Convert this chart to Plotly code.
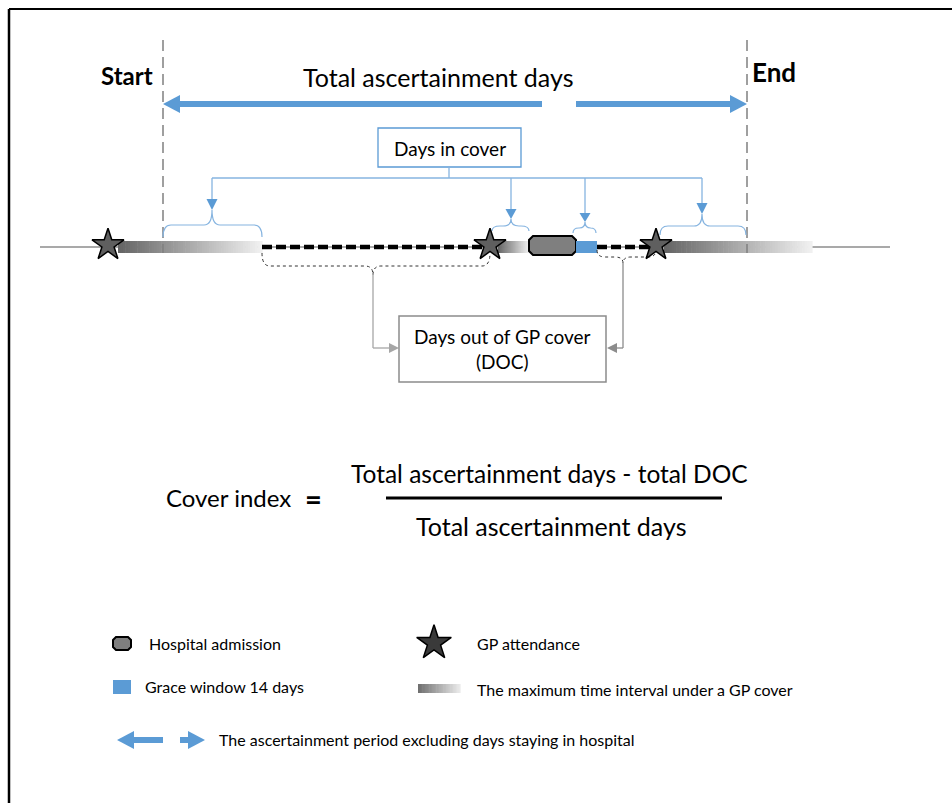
import plotly.graph_objects as go

# ---------------- data (timeline positions, in timeline units) ----------------
study_window = [163, 747]                 # start / end of ascertainment
gp_attendance = [108, 490, 656]           # GP attendance events
cover_intervals = [[108, 262], [490, 529], [656, 812]]   # max interval under GP cover
hospital_stay = [529, 576]
grace_window = [576, 597]
doc_intervals = [[262, 490], [597, 656]]  # days out of GP cover
timeline_extent = [40, 890]
in_cover_braces = [[163, 262], [492, 529], [573, 596], [660, 746]]

labels = {
    "start": "Start", "end": "End",
    "total": "Total ascertainment days",
    "in_cover": "Days in cover",
    "doc": "Days out of GP cover<br>(DOC)",
    "ci": "Cover index",
    "num": "Total ascertainment days - total DOC",
    "den": "Total ascertainment days",
}
legend_labels = ["Hospital admission", "GP attendance", "Grace window 14 days",
                 "The maximum time interval under a GP cover",
                 "The ascertainment period excluding days staying in hospital"]

# ---------------- styles ----------------
BLUE = "#5B9BD5"
LBLUE = "#86B4E0"
FONT = "Lato"
Y = 247          # timeline row
BH = 6           # half bar height

shapes = []
ann = []

def rect(x0, x1, y0, y1, color, line=None):
    shapes.append(dict(type="rect", x0=x0, x1=x1, y0=y0, y1=y1, fillcolor=color,
                       line=dict(width=0) if line is None else line, layer="below"))

def line(x0, y0, x1, y1, color, width=1, dash=None):
    d = dict(color=color, width=width)
    if dash:
        d["dash"] = dash
    shapes.append(dict(type="line", x0=x0, y0=y0, x1=x1, y1=y1, line=d, layer="below"))

def path(p, color=None, fill=None, width=1, dash=None):
    d = dict(color=color if color else "rgba(0,0,0,0)", width=width)
    if dash:
        d["dash"] = dash
    shapes.append(dict(type="path", path=p, line=d,
                       fillcolor=fill if fill else "rgba(0,0,0,0)", layer="below"))

def gradient(x0, x1, y0, y1, c0=(100, 100, 100), c1=(242, 242, 242), n=60):
    w = (x1 - x0) / n
    for i in range(n):
        t = (i + 0.5) / n
        c = tuple(int(c0[k] + (c1[k] - c0[k]) * t) for k in range(3))
        rect(x0 + i * w, x0 + (i + 1) * w + 0.6, y0, y1, "rgb(%d,%d,%d)" % c)

def tri_down(x, ytop, ybot, hw, color):
    path(f"M {x-hw},{ytop} L {x+hw},{ytop} L {x},{ybot} Z", fill=color, width=0)

def brace(x0, x1, yend, ybar, ytip, xc, color, width=1.2, dash=None):
    r = min(8, (x1 - x0) / 4)
    p = (f"M {x0},{yend} Q {x0},{ybar} {x0+r},{ybar} L {xc-r},{ybar} "
         f"Q {xc},{ybar} {xc},{ytip} Q {xc},{ybar} {xc+r},{ybar} L {x1-r},{ybar} "
         f"Q {x1},{ybar} {x1},{yend}")
    path(p, color=color, width=width, dash=dash)

def text(x, y, t, size, xanchor="center", bold=False, color="black"):
    ann.append(dict(x=x, y=y, text=f"<b>{t}</b>" if bold else t, showarrow=False,
                    xanchor=xanchor, yanchor="middle",
                    font=dict(family=FONT, size=size, color=color)))

# frame
line(9, 9, 952, 9, "black", 2)
line(9, 9, 9, 803, "black", 2.5)

# timeline base line
line(timeline_extent[0], Y, timeline_extent[1], Y, "#8c8c8c", 1.5)

# cover gradients
for a, b in cover_intervals:
    gradient(a + (10 if a == gp_attendance[0] else 8), b, Y - BH, Y + BH)

# DOC dashed lines
for a, b in doc_intervals:
    line(a, Y, b, Y, "black", 4.5, "10px,4px")

# hospital admission
h0, h1 = hospital_stay
c = 4
path(f"M {h0+c},{Y-11} L {h1-c},{Y-11} L {h1},{Y-11+c} L {h1},{Y+8-c} L {h1-c},{Y+8} "
     f"L {h0+c},{Y+8} L {h0},{Y+8-c} L {h0},{Y-11+c} Z", color="black", fill="#7f7f7f", width=2)
# grace window
rect(grace_window[0], grace_window[1], Y - BH, Y + BH, BLUE)

# Start / End dashed lines
for xs in study_window:
    line(xs, 40, xs, 253, "#808080", 1.5, "11px,6px")

text(study_window[0] - 8, 75, labels["start"], 24, "right", bold=True)
text(study_window[1] + 3, 72, labels["end"], 26, "left", bold=True)
text(437.5, 77, labels["total"], 25)

# big arrows
def big_arrow_left(xtip, xtail, y):
    line(xtip + 14, y, xtail, y, BLUE, 6)
    path(f"M {xtip},{y} L {xtip+17},{y-9} L {xtip+17},{y+9} Z", fill=BLUE, width=0)

def big_arrow_right(xtip, xtail, y):
    line(xtail, y, xtip - 14, y, BLUE, 6)
    path(f"M {xtip},{y} L {xtip-17},{y-9} L {xtip-17},{y+9} Z", fill=BLUE, width=0)

big_arrow_left(study_window[0], 542, 104)
big_arrow_right(study_window[1], 576, 104)

# days in cover box + connectors
shapes.append(dict(type="rect", x0=378, x1=521, y0=128, y1=167, line=dict(color=BLUE, width=1.3),
                   fillcolor="white", layer="below"))
text(449.5, 148, labels["in_cover"], 19)
line(449, 167, 449, 178, LBLUE, 1.3)
brace_tips = [(212, 199, 210, 225, 237), (511, 209, 219, 226, 231),
              (585, 213, 222, 228, 233), (702, 203, 214, 226, 235)]
line(212, 178, 702, 178, LBLUE, 1.3)
for (xb0, xb1), (xc, tt, tb, ybar, yend) in zip(in_cover_braces, brace_tips):
    line(xc, 178, xc, tt, LBLUE, 1.3)
    tri_down(xc, tt, tb, 5.5, BLUE)
    brace(xb0, xb1, yend, ybar, tb, xc, LBLUE, 1.2)

# DOC braces (dotted, opening up)
brace(doc_intervals[0][0], doc_intervals[0][1], 253, 266, 275, 373, "#333333", 1, "dot")
brace(doc_intervals[1][0], doc_intervals[1][1], 250, 257, 263, 623, "#333333", 1, "dot")

GRAY = "#a6a6a6"
line(373, 275, 373, 348, GRAY, 1.3)
line(373, 348, 390, 348, GRAY, 1.3)
path("M 399,348 L 389,343 L 389,353 Z", fill=GRAY, width=0)
line(623, 263, 623, 348, "#8c8c8c", 1.3)
line(623, 348, 616, 348, "#8c8c8c", 1.3)
path("M 607,348 L 617,343 L 617,353 Z", fill="#8c8c8c", width=0)

shapes.append(dict(type="rect", x0=399, x1=606, y0=316, y1=382, line=dict(color="#8c8c8c", width=1.5),
                   fillcolor="white", layer="below"))
text(502.5, 349, labels["doc"], 19)

# formula
text(164, 497, labels["ci"], 24, "left")
text(313, 498, "=", 29, bold=True)
text(549, 473, labels["num"], 24.5)
line(386, 498, 722, 498, "black", 3)
text(551, 526, labels["den"], 25)

# legend
path("M 116,637 L 128,637 L 131,640 L 131,647 L 128,650 L 116,650 L 113,647 L 113,640 Z",
     color="black", fill="#7f7f7f", width=2)
text(147, 643, legend_labels[0], 16, "left")
text(475, 643, legend_labels[1], 16, "left")
rect(113, 131, 680, 694, BLUE)
text(143, 686, legend_labels[2], 16, "left")
gradient(418, 460, 684, 693, c0=(110, 110, 110), c1=(236, 236, 236), n=30)
text(475, 689, legend_labels[3], 16, "left")
big_arrow_left(117, 163, 740)
big_arrow_right(205, 180, 740)
text(217, 739, legend_labels[4], 16, "left")

fig = go.Figure()
fig.add_trace(go.Scatter(x=gp_attendance, y=[Y - 2] * len(gp_attendance), mode="markers",
                         marker=dict(symbol="star", size=24, color="#5f5f5f",
                                     line=dict(color="black", width=1.5)),
                         hoverinfo="skip", showlegend=False))
fig.add_trace(go.Scatter(x=[434], y=[643], mode="markers",
                         marker=dict(symbol="star", size=26, color="#3a3a3a",
                                     line=dict(color="black", width=1.5)),
                         hoverinfo="skip", showlegend=False))

fig.update_layout(
    width=952, height=803, margin=dict(l=0, r=0, t=0, b=0),
    paper_bgcolor="white", plot_bgcolor="white",
    xaxis=dict(range=[0, 952], visible=False, fixedrange=True),
    yaxis=dict(range=[803, 0], visible=False, fixedrange=True),
    shapes=shapes, annotations=ann, showlegend=False,
)
fig.write_html("out.html", config={"displayModeBar": False},
               post_script="document.body.style.margin='0px';document.body.style.padding='0px';")
